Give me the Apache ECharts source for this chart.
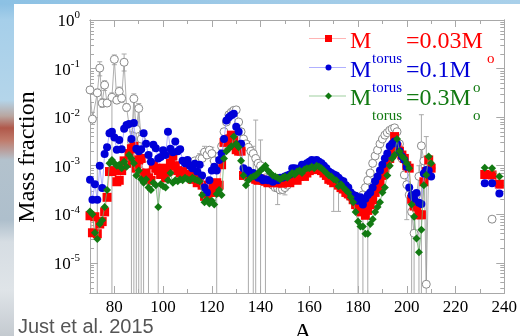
<!DOCTYPE html>
<html><head><meta charset="utf-8">
<script src="https://cdn.jsdelivr.net/npm/echarts@6/dist/echarts.min.js"></script>
<style>
html,body{margin:0;padding:0;background:#fff;}
#wrap{position:relative;width:520px;height:336px;overflow:hidden;}
#bg{position:absolute;left:0;top:0;width:520px;height:336px;
 background:linear-gradient(to bottom,#86bde2 0px,#a6cfea 20px,#b4d5ea 100px,#b9a6a0 116px,#b0584a 128px,#c07a6a 140px,#b3c2cd 160px,#aebfcc 220px,#d6dde3 242px,#dfe4e8 290px,#c4cad0 336px);}
#top{position:absolute;left:0;top:0;width:520px;height:4px;background:linear-gradient(to right,#8cc1e4,#9fcae7 50%,#a9d0ea);}
#panel{position:absolute;left:14px;top:4px;width:506px;height:332px;background:#fff;}
#c{position:absolute;left:0;top:0;width:520px;height:336px;}
</style>
</head><body><div id="wrap"><div id="bg"></div><div id="top"></div><div id="panel"></div><div id="c"></div></div>
<script>
// ---- data: mass number A and log10(mass fraction) ----
const modelA = [70,71,72,73,74,75,76,77,78,79,80,81,82,83,84,85,86,87,88,89,90,91,92,93,94,95,96,97,98,99,
100,101,102,103,104,105,106,107,108,109,110,111,112,113,114,115,116,117,118,119,120,121,122,123,124,125,126,127,128,129,
130,131,132,133,134,135,136,137,138,139,140,141,142,143,144,145,146,147,148,149,150,151,152,153,154,155,156,157,158,159,
160,161,162,163,164,165,166,167,168,169,170,171,172,173,174,175,176,177,178,179,180,181,182,183,184,185,186,187,188,189,
190,191,192,193,194,195,196,197,198,199,200,201,202,203,204,205,206,207,208,209,210];
const redLog = [-4.03,-4.38,-4.05,-4.40,-4.20,-4.15,-3.95,-3.65,-3.12,-3.12,
-3.10,-3.33,-3.30,-3.10,-2.90,-2.95,-2.75,-2.65,-2.60,-3.05,
-2.88,-2.85,-3.20,-3.15,-3.25,-3.30,-2.98,-3.05,-3.10,-3.18,
-3.05,-3.25,-3.12,-2.95,-2.80,-3.00,-3.10,-3.15,-3.12,-3.18,
-3.20,-3.22,-3.28,-3.25,-3.35,-3.32,-3.40,-3.63,-3.68,-3.55,
-3.45,-3.55,-3.35,-3.40,-2.98,-2.52,-2.50,-2.45,-2.37,-2.48,
-2.67,-2.70,-2.70,-3.20,-3.18,-3.22,-3.25,-3.22,-3.28,-3.30,
-3.28,-3.30,-3.32,-3.35,-3.33,-3.35,-3.32,-3.35,-3.33,-3.36,
-3.32,-3.30,-3.35,-3.28,-3.25,-3.30,-3.22,-3.20,-3.22,-3.15,
-3.10,-3.05,-3.08,-3.03,-3.05,-3.10,-3.15,-3.20,-3.28,-3.30,
-3.35,-3.33,-3.40,-3.45,-3.48,-3.55,-3.58,-3.62,-3.70,-3.80,
-3.85,-3.95,-3.88,-4.02,-3.92,-3.80,-3.70,-3.55,-3.45,-3.35,
-3.20,-3.05,-2.95,-2.85,-2.75,-2.40,-2.62,-2.70,-2.78,-2.85,
-3.00,-3.05,-3.69,-3.83,-3.85,-4.01,-4.01,-3.33,-3.12,-2.88,-3.05];
const blueLog = [-3.29,-3.70,-3.38,-3.70,-3.00,-3.46,-2.76,-2.62,-2.33,-2.30,
-2.42,-2.67,-2.47,-2.66,-2.24,-2.16,-2.14,-2.45,-2.12,-2.65,
-2.70,-2.66,-2.33,-2.55,-2.78,-2.92,-2.57,-2.64,-2.85,-2.82,
-2.68,-2.78,-2.30,-2.65,-2.72,-2.50,-2.70,-2.66,-2.90,-2.95,
-2.88,-3.00,-3.05,-2.96,-3.12,-2.98,-3.20,-3.45,-3.55,-3.30,
-3.10,-3.02,-3.10,-2.88,-2.75,-2.45,-2.07,-2.00,-1.96,-1.93,
-2.20,-2.30,-2.55,-3.05,-3.15,-3.10,-3.20,-3.15,-3.20,-3.25,
-3.25,-3.30,-3.28,-3.30,-3.30,-3.33,-3.28,-3.30,-3.25,-3.25,
-3.22,-3.20,-3.18,-3.05,-3.05,-3.10,-3.05,-2.98,-3.00,-2.95,
-2.92,-2.88,-2.90,-2.88,-2.92,-2.95,-3.00,-3.05,-3.12,-3.15,
-3.18,-3.20,-3.25,-3.30,-3.32,-3.40,-3.45,-3.55,-3.60,-3.62,
-3.72,-3.65,-3.80,-3.68,-3.60,-3.55,-3.45,-3.32,-3.22,-3.10,
-2.98,-2.85,-2.75,-2.60,-2.55,-2.50,-2.55,-2.70,-2.81,-2.88,
-3.02,-3.45,-3.60,-3.68,-3.56,-3.76,-3.79,-3.16,-3.09,-3.10,-3.22];
const greenLog = [-3.94,-4.00,-4.38,-4.51,-4.20,-4.12,-3.85,-3.50,-2.95,-2.88,
-2.95,-3.00,-2.98,-3.05,-2.92,-3.02,-2.78,-2.85,-2.95,-3.20,
-3.10,-3.28,-3.35,-3.28,-3.45,-3.50,-3.35,-3.40,-3.85,-3.38,
-3.42,-3.45,-3.30,-3.15,-3.35,-3.30,-3.32,-3.28,-3.30,-3.25,
-3.28,-3.30,-3.25,-3.28,-3.30,-3.32,-3.60,-3.75,-3.70,-3.78,
-3.72,-3.80,-3.58,-3.50,-3.60,-2.85,-2.70,-2.65,-2.60,-2.40,
-2.55,-2.62,-2.90,-3.20,-3.40,-3.30,-3.25,-3.22,-3.20,-3.15,
-3.10,-3.05,-3.00,-3.10,-3.15,-3.20,-3.22,-3.25,-3.28,-3.25,
-3.22,-3.25,-3.20,-3.15,-3.18,-3.12,-3.10,-3.15,-3.08,-3.05,
-3.05,-3.02,-3.05,-3.00,-3.02,-3.05,-3.10,-3.15,-3.20,-3.22,
-3.28,-3.30,-3.42,-3.38,-3.45,-3.50,-3.55,-3.65,-3.75,-3.95,
-4.15,-4.25,-4.25,-4.40,-4.40,-4.20,-4.10,-3.95,-3.85,-3.75,
-3.55,-3.45,-3.20,-3.00,-2.85,-2.78,-2.45,-2.70,-2.80,-2.85,
-2.95,-3.05,-3.80,-4.05,-4.50,-4.78,-4.32,-3.40,-3.19,-2.81,-2.95];
// separate group of model points near A = 232-238
const tailA = [232,235,238];
const redTailLog = [-3.18,-3.19,-3.38];
const blueTailLog = [-3.36,-3.36,-3.57];
const greenTailLog = [-3.04,-3.05,-3.22];

// observed abundances (open circles)
const obsA = [70,71,73,74,75,76,77,79,80,81,82,83,84,85,87,88,89,90,91,92,93,94,95,96,97,98,99,
100,101,102,103,104,105,106,107,108,109,110,111,112,113,114,115,116,117,118,119,120,121,122,123,124,125,126,127,128,129,
130,131,132,133,134,135,136,137,138,139,140,141,142,143,144,145,146,147,148,149,150,151,152,153,154,155,156,157,158,159,
160,161,162,163,164,165,166,167,168,169,170,171,172,173,174,175,176,177,178,179,180,181,182,183,184,185,186,187,188,189,
190,191,192,193,194,195,196,197,198,199,200,201,202,203,204,205,206,207,208,209,210];
const obsLog = [-1.44,-2.04,-1.50,-0.99,-1.71,-1.34,-1.71,-1.59,-0.81,-1.65,-1.47,-1.61,-0.87,-1.80,-2.50,-1.62,-2.25,-1.82,-2.45,-3.10,-3.00,-3.20,-3.35,-3.10,-3.20,-3.30,-3.15,
-3.10,-3.20,-3.05,-3.00,-2.95,-3.05,-3.10,-3.00,-3.10,-3.05,-3.10,-3.00,-2.95,-2.90,-2.95,-2.85,-2.85,-2.72,-2.78,-2.68,-2.75,-2.90,-3.05,-2.80,-2.60,-2.30,-2.10,-1.95,-1.90,-1.86,
-1.85,-2.10,-2.30,-2.45,-2.55,-2.62,-2.70,-2.75,-2.85,-2.95,-3.00,-3.15,-3.25,-3.30,-3.35,-3.40,-3.45,-3.46,-3.50,-3.49,-3.45,-3.40,-3.35,-3.30,-3.29,-3.25,-3.20,-3.15,-3.10,-3.08,
-3.05,-3.03,-3.02,-3.00,-3.02,-3.05,-3.10,-3.15,-3.20,-3.25,-3.30,-3.35,-3.38,-3.42,-3.48,-3.55,-3.60,-3.65,-3.72,-3.80,-3.85,-3.75,-3.60,-3.45,-3.30,-3.15,-2.95,-2.80,-2.68,-2.55,
-2.45,-2.37,-2.32,-2.27,-2.24,-2.22,-2.30,-2.55,-2.85,-3.19,-3.39,-3.60,-3.95,-4.39,-3.60,-3.22,-2.59,-2.90,-5.44,-3.00,-3.05];
const obsTailA = [235];
const obsTailLog = [-4.10];
// error bars of the observed values (null low = bar runs below the frame)
const errA  = [70,71,73,74,75,76,77,79,80,81,82,83,84,85,87,88,89,90,91,92,94,95,98,115,116,117,120,122,135,137,138,140,142,147,150,170,172,180,182,184,200,202,203,205,206,208];
const errHi = [-1.36,-1.90,-1.42,-0.86,-1.62,-1.25,-1.63,-1.50,-0.72,-1.58,-1.38,-1.53,-0.70,-1.72,-2.30,-1.52,-2.10,-1.72,-2.30,-2.90,-3.00,-3.20,-3.10,-2.75,-2.70,-2.60,-2.62,-2.85,-2.50,-2.60,-2.06,-2.47,-3.10,-3.30,-3.35,-3.20,-3.29,-3.70,-3.45,-3.15,-2.91,-3.60,-3.90,-3.00,-1.95,-2.40];
const errLo = [-1.52,-2.15,null,-1.15,-1.80,-1.45,-1.78,null,-0.92,-1.72,-1.55,-1.70,-1.05,-1.88,null,null,null,null,null,null,null,-3.50,null,-2.95,-3.00,-2.85,-2.90,null,null,null,null,null,null,-3.80,-3.60,-3.94,-3.94,null,null,null,-4.11,null,null,null,null,null];

// axis ticks / labels
const xLabelValues = [80,100,120,140,160,180,200,220,240];
const xMinorValues = [70,90,110,130,150,170,190,210,230];
const yLabelValues = [-5,-4,-3,-2,-1,0];
const X_MIN = 70, X_MAX = 240, Y_MIN = -5.62, Y_MAX = 0;

// ---- build ----
const yMinorValues = [];
for (let n = -6; n < 0; n++) for (let k = 2; k <= 9; k++) {
  const v = n + Math.log10(k);
  if (v > Y_MIN && v < Y_MAX) yMinorValues.push(v);
}
const zip = (a, b) => a.map((x, i) => [x, b[i]]);
const errData = errA.map((a, i) => [a, errLo[i] === null ? Y_MIN - 1 : errLo[i], errHi[i], errLo[i] === null ? 0 : 1]);

const SERIF = '"Liberation Serif", "DejaVu Serif", serif';
const AX = '#a8a8a8';
function xAxisDef(position, major, labels) {
  return {
    type: 'value', position, min: X_MIN, max: X_MAX,
    axisLine: { show: true, onZero: false, lineStyle: { color: AX, width: 1 } },
    axisTick: { show: true, inside: true, length: major ? 7 : 4, customValues: major ? xLabelValues : xMinorValues, lineStyle: { color: AX } },
    axisLabel: { show: labels, customValues: xLabelValues, fontFamily: SERIF, fontSize: 17, color: '#000', margin: 6 },
    splitLine: { show: false }
  };
}
function yAxisDef(position, major, labels) {
  return {
    type: 'value', position, min: Y_MIN, max: Y_MAX,
    axisLine: { show: true, onZero: false, lineStyle: { color: AX, width: 1 } },
    axisTick: { show: true, inside: true, length: major ? 8 : 4, customValues: major ? yLabelValues : yMinorValues, lineStyle: { color: AX } },
    axisLabel: {
      show: labels, customValues: yLabelValues, margin: 10,
      formatter: v => '{b|10}{e|' + Math.round(v) + '}',
      rich: {
        b: { fontFamily: SERIF, fontSize: 17, color: '#000', lineHeight: 20, verticalAlign: 'bottom' },
        e: { fontFamily: SERIF, fontSize: 11, color: '#000', lineHeight: 12, verticalAlign: 'top' }
      }
    },
    splitLine: { show: false }
  };
}

const RED = '#ff0000', BLUE = '#0000d8', GREEN = '#127a12';
function modelSeries(name, A, V, symbol, size, color, lineColor, z) {
  return {
    name, type: 'line', data: zip(A, V), symbol, symbolSize: size,
    itemStyle: { color }, lineStyle: { color: lineColor, width: 0.8 },
    z, animation: false, clip: true
  };
}

const chart = echarts.init(document.getElementById('c'), null, { renderer: 'canvas' });
const legendTexts = [
  ['M', 350, 42, 24, RED], ['=0.03M', 406, 42, 24, RED],
  ['torus', 372, 59, 15, BLUE], ['o', 487, 59, 15, RED],
  ['M', 350, 71, 24, BLUE], ['=0.1M', 406, 71, 24, BLUE],
  ['torus', 372, 88, 15, BLUE], ['o', 473, 88, 15, GREEN],
  ['M', 350, 99, 24, GREEN], ['=0.3M', 406, 99, 24, GREEN],
  ['torus', 372, 116, 15, GREEN], ['o', 473, 116, 15, GREEN]
];
const graphics = [];
legendTexts.forEach(t => graphics.push({
  type: 'text', x: t[1], y: t[2], z: 50,
  style: { text: t[0], fill: t[4], font: t[3] + 'px ' + SERIF, textAlign: 'left', textVerticalAlign: 'middle' }
}));
// legend samples
[[38.5, '#ffb4b4', RED, 'rect'], [67.5, '#b0b0ff', BLUE, 'circle'], [96, '#9fcf9f', GREEN, 'diamond']].forEach(r => {
  graphics.push({ type: 'line', z: 50, shape: { x1: 309, y1: r[0], x2: 346, y2: r[0] }, style: { stroke: r[1], lineWidth: 1 } });
  if (r[3] === 'rect') graphics.push({ type: 'rect', z: 51, shape: { x: 325, y: r[0] - 3.5, width: 7, height: 7 }, style: { fill: r[2] } });
  else if (r[3] === 'circle') graphics.push({ type: 'circle', z: 51, shape: { cx: 328.5, cy: r[0], r: 3 }, style: { fill: r[2] } });
  else graphics.push({ type: 'polygon', z: 51, shape: { points: [[328.5, r[0] - 3.5], [332, r[0]], [328.5, r[0] + 3.5], [325, r[0]]] }, style: { fill: r[2] } });
});
graphics.push({ type: 'text', x: 28, y: 157, rotation: Math.PI / 2, z: 50,
  style: { text: 'Mass fraction', fill: '#000', font: '24px ' + SERIF, textAlign: 'center', textVerticalAlign: 'middle' } });
graphics.push({ type: 'text', x: 303, y: 333, z: 50,
  style: { text: 'A', fill: '#000', font: '24px ' + SERIF, textAlign: 'center', textVerticalAlign: 'middle' } });
graphics.push({ type: 'text', x: 18, y: 327, z: 50,
  style: { text: 'Just et al. 2015', fill: '#555', font: '20px "Liberation Sans", Arial, sans-serif', textAlign: 'left', textVerticalAlign: 'middle' } });

chart.setOption({
  animation: false,
  backgroundColor: 'transparent',
  grid: { left: 90, right: 7, top: 20, bottom: 43 },
  xAxis: [xAxisDef('bottom', true, true), xAxisDef('bottom', false, false), xAxisDef('top', true, false), xAxisDef('top', false, false)],
  yAxis: [yAxisDef('left', true, true), yAxisDef('left', false, false), yAxisDef('right', true, false), yAxisDef('right', false, false)],
  graphic: { elements: graphics },
  series: [
    {
      type: 'custom', data: errData, z: 1, clip: true, animation: false,
      encode: { x: 0, y: [1, 2] },
      renderItem: (params, api) => {
        const x = api.value(0), lo = api.value(1), hi = api.value(2), hasLo = api.value(3);
        const pH = api.coord([x, hi]), pL = api.coord([x, lo]);
        const st = { stroke: '#aaaaaa', lineWidth: 1 };
        const ch = [
          { type: 'line', shape: { x1: pH[0], y1: pH[1], x2: pL[0], y2: pL[1] }, style: st },
          { type: 'line', shape: { x1: pH[0] - 2.5, y1: pH[1], x2: pH[0] + 2.5, y2: pH[1] }, style: st }
        ];
        if (hasLo) ch.push({ type: 'line', shape: { x1: pL[0] - 2.5, y1: pL[1], x2: pL[0] + 2.5, y2: pL[1] }, style: st });
        return { type: 'group', children: ch };
      }
    },
    {
      type: 'line', data: zip(obsA, obsLog), symbol: 'circle', symbolSize: 8, z: 2, animation: false,
      itemStyle: { color: '#ffffff', borderColor: '#8a8a8a', borderWidth: 1 },
      lineStyle: { color: '#9a9a9a', width: 0.8 }
    },
    {
      type: 'line', data: zip(obsTailA, obsTailLog), symbol: 'circle', symbolSize: 8, z: 2, animation: false,
      itemStyle: { color: '#ffffff', borderColor: '#8a8a8a', borderWidth: 1 }
    },
    modelSeries('red', modelA, redLog, 'rect', 9, RED, '#ff9a9a', 3),
    modelSeries('red2', tailA, redTailLog, 'rect', 9, RED, '#ff9a9a', 3),
    modelSeries('blue', modelA, blueLog, 'circle', 8, BLUE, '#9a9aff', 4),
    modelSeries('blue2', tailA, blueTailLog, 'circle', 8, BLUE, '#9a9aff', 4),
    modelSeries('green', modelA, greenLog, 'diamond', 8, GREEN, '#6fb06f', 5),
    modelSeries('green2', tailA, greenTailLog, 'diamond', 8, GREEN, '#6fb06f', 5)
  ]
});
</script></body></html>
